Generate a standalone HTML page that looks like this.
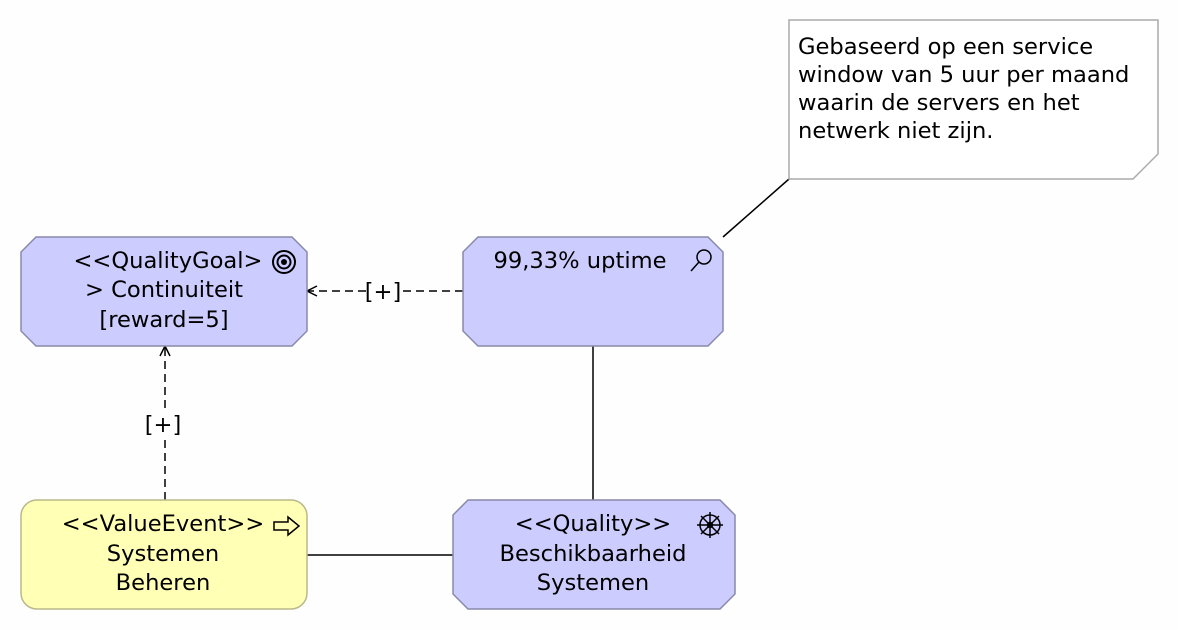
<!DOCTYPE html>
<html><head><meta charset="utf-8"><style>
html,body{margin:0;padding:0;background:#fefefe;}
svg{display:block;}
text{font-family:"DejaVu Sans","Liberation Sans",sans-serif;font-size:22.6px;fill:#000;}
</style></head><body>
<svg width="1178" height="630" viewBox="0 0 1178 630" xmlns="http://www.w3.org/2000/svg">
<defs>
<marker id="oa" markerWidth="14" markerHeight="14" refX="12" refY="7" orient="auto" markerUnits="userSpaceOnUse">
<path d="M2,2 L12,7 L2,12" fill="none" stroke="#000" stroke-width="1.5"/>
</marker>
</defs>
<line x1="723" y1="237" x2="789" y2="179" stroke="#000" stroke-width="1.5"/>
<line x1="463" y1="291" x2="400" y2="291" stroke="#000" stroke-width="1.5" stroke-dasharray="8,5"/>
<line x1="366" y1="291" x2="307" y2="291" stroke="#000" stroke-width="1.5" stroke-dasharray="8,5" marker-end="url(#oa)"/>
<text x="383" y="299" text-anchor="middle">[+]</text>
<line x1="165" y1="500" x2="165" y2="440" stroke="#000" stroke-width="1.5" stroke-dasharray="8,5"/>
<line x1="165" y1="408" x2="165" y2="346" stroke="#000" stroke-width="1.5" stroke-dasharray="8,5" marker-end="url(#oa)"/>
<text x="163" y="432" text-anchor="middle">[+]</text>
<line x1="593" y1="346" x2="593" y2="500" stroke="#000" stroke-width="1.5"/>
<line x1="307" y1="555" x2="453" y2="555" stroke="#000" stroke-width="1.5"/>

<path d="M789,20 H1158 V154 L1133,179 H789 Z" fill="#fff" stroke="#aaa" stroke-width="1.5"/>
<text x="798" y="54">Gebaseerd op een service</text>
<text x="798" y="82">window van 5 uur per maand</text>
<text x="798" y="110">waarin de servers en het</text>
<text x="798" y="138">netwerk niet zijn.</text>

<path d="M36,237 H292 L307,252 V331 L292,346 H36 L21,331 V252 Z" fill="#ccccff" stroke="#8888aa" stroke-width="1.5"/>
<text x="168" y="268" text-anchor="middle">&lt;&lt;QualityGoal&gt;</text>
<text x="164" y="297" text-anchor="middle">&gt; Continuiteit</text>
<text x="164" y="327" text-anchor="middle">[reward=5]</text>
<circle cx="284" cy="262" r="11" fill="none" stroke="#000" stroke-width="2"/>
<circle cx="284" cy="262" r="6.5" fill="none" stroke="#000" stroke-width="2"/>
<circle cx="284" cy="262" r="3" fill="#000"/>

<path d="M478,237 H708 L723,252 V331 L708,346 H478 L463,331 V252 Z" fill="#ccccff" stroke="#8888aa" stroke-width="1.5"/>
<text x="580" y="268" text-anchor="middle">99,33% uptime</text>
<circle cx="704" cy="257" r="7" fill="none" stroke="#000" stroke-width="1.5"/>
<line x1="699" y1="262" x2="691" y2="271" stroke="#000" stroke-width="1.5"/>

<rect x="21" y="500" width="286" height="109" rx="16" fill="#ffffb5" stroke="#b8b88a" stroke-width="1.5"/>
<text x="163" y="531" text-anchor="middle">&lt;&lt;ValueEvent&gt;&gt;</text>
<text x="163" y="561" text-anchor="middle">Systemen</text>
<text x="163" y="590" text-anchor="middle">Beheren</text>
<path d="M274,522 H288 V517 L299,526 L288,535 V530 H274 Z" fill="none" stroke="#000" stroke-width="1.5"/>

<path d="M468,500 H720 L735,515 V594 L720,609 H468 L453,594 V515 Z" fill="#ccccff" stroke="#8888aa" stroke-width="1.5"/>
<text x="593" y="531" text-anchor="middle">&lt;&lt;Quality&gt;&gt;</text>
<text x="593" y="561" text-anchor="middle">Beschikbaarheid</text>
<text x="593" y="590" text-anchor="middle">Systemen</text>
<g stroke="#000" stroke-width="1.5" fill="none">
<circle cx="710" cy="525" r="10"/>
<circle cx="710" cy="525" r="2.5" fill="#000"/>
<line x1="710" y1="512" x2="710" y2="538"/>
<line x1="697" y1="525" x2="723" y2="525"/>
<line x1="701" y1="516" x2="719" y2="534"/>
<line x1="719" y1="516" x2="701" y2="534"/>
</g>
</svg>
</body></html>
